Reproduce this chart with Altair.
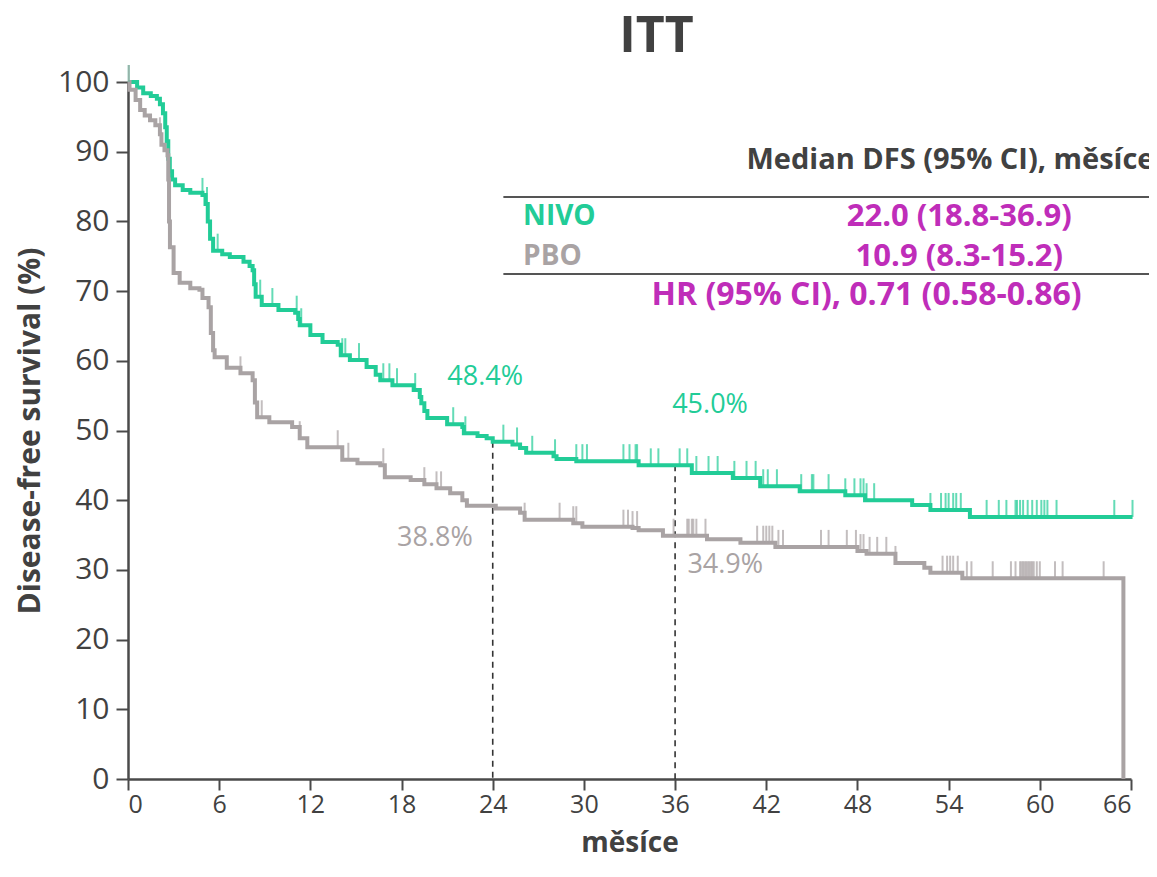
import altair as alt
import numpy as np
import pandas as pd

# ---- data -------------------------------------------------------------
nivo_t = [0, 0.6, 1.0, 1.5, 1.9, 2.1, 2.3, 2.45, 2.55, 2.65, 2.75, 2.9, 3.1, 3.6, 4.1, 4.9,
          5.1, 5.25, 5.4, 5.6, 6.2, 6.7, 7.6, 8.0, 8.2, 8.3, 8.4, 8.8, 9.9, 11.0, 11.2, 11.3,
          12.0, 12.8, 13.8, 14.0, 14.6, 15.7, 16.3, 16.6, 17.4, 18.8, 19.2, 19.3, 19.5, 19.7,
          21.0, 22.0, 22.1, 23.0, 23.6, 24.0, 25.3, 25.8, 26.2, 28.0, 28.2, 29.5, 33.6, 37.1,
          39.8, 41.6, 44.2, 47.2, 48.5, 51.6, 52.8, 55.4, 66.1]
nivo_s = [100, 99.2, 98.4, 98.0, 97.6, 96.8, 95.5, 93.5, 91.5, 89.0, 87.2, 86.0, 85.2, 84.5, 84.1, 83.8,
          82.5, 80.0, 77.5, 75.8, 75.3, 74.9, 74.2, 73.6, 73.0, 71.0, 69.2, 68.0, 67.3, 66.9, 66.0, 65.1,
          63.7, 62.7, 62.3, 60.8, 60.1, 59.1, 58.0, 57.2, 56.5, 55.8, 54.8, 53.9, 52.8, 51.8,
          50.9, 50.5, 49.6, 49.2, 48.9, 48.4, 48.0, 47.5, 46.8, 46.3, 45.9, 45.6, 45.0, 43.9,
          43.2, 42.0, 41.3, 40.7, 40.0, 39.3, 38.6, 37.6, 37.6]

pbo_t = [0, 0.1, 0.5, 0.8, 1.1, 1.45, 1.8, 2.1, 2.2, 2.4, 2.6, 2.65, 2.7, 2.76, 3.0, 3.4, 4.1,
         4.7, 4.9, 5.3, 5.45, 5.6, 5.7, 6.5, 7.4, 8.2, 8.35, 8.5, 9.3, 10.8, 11.3, 11.8, 14.1,
         15.1, 16.6, 16.9, 18.6, 19.5, 20.3, 21.2, 22.0, 22.3, 24.2, 25.8, 26.1, 29.3, 29.9,
         33.2, 33.6, 35.2, 38.1, 40.3, 42.6, 48.0, 48.6, 50.5, 52.4, 52.8, 54.9, 65.5, 65.5]
pbo_s = [100, 98.9, 97.4, 96.0, 95.2, 94.5, 93.8, 92.5, 91.0, 90.2, 89.5, 86.0, 80.0, 76.3, 72.6, 71.2, 70.4,
         70.2, 69.0, 67.7, 64.0, 61.5, 60.5, 59.0, 58.2, 57.2, 54.0, 51.9, 51.2, 50.5, 48.9, 47.6, 45.8,
         45.3, 45.0, 43.3, 42.9, 42.3, 41.7, 41.0, 40.0, 39.2, 38.8, 38.2, 37.2, 36.7, 36.2,
         36.0, 35.7, 34.9, 34.4, 33.9, 33.3, 32.7, 32.3, 31.0, 30.3, 29.6, 28.8, 28.8, 0]

nivo_cens = [0.05, 4.9, 5.2, 5.9, 8.7, 9.5, 11.1, 11.4, 14.1, 14.3, 15.2, 16.8, 17.2, 17.7, 18.9,
             21.4, 22.2, 24.7, 25.6, 26.6, 28.1, 29.5, 29.9, 30.2, 32.6, 33.0, 33.4, 33.5, 34.4,
             34.9, 36.3, 36.8, 37.4, 38.2, 38.8, 39.9, 40.7, 41.3, 41.8, 42.1, 42.7, 44.3, 45.0,
             45.1, 46.1, 47.2, 47.8, 48.2, 48.4, 48.6, 49.1, 52.8, 53.5, 53.8, 54.0, 54.3, 54.5,
             54.8, 56.5, 57.3, 57.8, 58.4, 58.5, 58.7, 58.9, 59.2, 59.5, 59.8, 60.1, 60.3, 60.5,
             61.1, 64.9, 66.1]
pbo_cens = [0.05, 2.1, 7.4, 8.8, 11.3, 13.8, 14.5, 16.8, 19.5, 20.3, 20.6, 26.1, 28.4, 29.3, 29.5,
            32.6, 32.9, 33.2, 33.5, 35.9, 36.8, 36.9, 37.1, 37.2, 37.4, 38.0, 41.4, 41.8, 42.0,
            42.2, 42.4, 42.8, 43.1, 45.6, 46.1, 47.3, 47.9, 48.2, 48.4, 48.8, 49.3, 49.9, 50.5,
            53.6, 53.9, 54.1, 54.3, 54.6, 55.2, 55.5, 56.9, 58.1, 58.4, 58.7, 58.8, 58.9, 59.0,
            59.1, 59.2, 59.3, 59.4, 59.5, 59.6, 59.8, 60.0, 61.0, 61.5, 64.2]

arms = ["NIVO", "PBO"]
arm_colors = ["#22CC97", "#A9A3A4"]

landmark_t = [24, 36]
landmark_nivo = [48.4, 45.0]
landmark_pbo = [38.8, 34.9]

pct_text = ["48.4%", "45.0%", "38.8%", "34.9%"]
pct_arm = ["NIVO", "NIVO", "PBO", "PBO"]
pct_x = [23.5, 38.3, 20.2, 39.3]
pct_y = [57.7, 53.7, 34.6, 30.7]

magenta = "#BF2DB9"
dark = "#414141"
FONT = "Open Sans"

# ---- tables -----------------------------------------------------------
curve = pd.concat([
    pd.DataFrame({"t": nivo_t, "s": nivo_s, "arm": "NIVO", "i": range(len(nivo_t))}),
    pd.DataFrame({"t": pbo_t, "s": pbo_s, "arm": "PBO", "i": range(len(pbo_t))}),
])


def lookup(times, ts, ss):
    idx = np.searchsorted(np.array(ts), np.array(times), side="right") - 1
    return [ss[k] for k in idx]


cens = pd.concat([
    pd.DataFrame({"t": nivo_cens, "s": lookup(nivo_cens, nivo_t, nivo_s), "arm": "NIVO"}),
    pd.DataFrame({"t": pbo_cens, "s": lookup(pbo_cens, pbo_t, pbo_s), "arm": "PBO"}),
])

land = pd.DataFrame({"t": landmark_t, "top": landmark_nivo})
pct = pd.DataFrame({"label": pct_text, "arm": pct_arm, "t": pct_x, "s": pct_y})

color = alt.Color("arm:N", scale=alt.Scale(domain=arms, range=arm_colors), legend=None)

xs = alt.Scale(domain=[0, 66], nice=False)
ys = alt.Scale(domain=[0, 100], nice=False)

x_axis = alt.Axis(values=list(range(0, 67, 6)), title="měsíce", labelFont=FONT, labelFontSize=25,
                  labelColor=dark, titleFont=FONT, titleFontSize=28, titleFontWeight="bold",
                  titleColor=dark, domainColor="#4a4a4a", domainWidth=2.5, tickColor="#4a4a4a",
                  tickWidth=2, tickSize=11, labelPadding=2, titlePadding=12, grid=False)
y_axis = alt.Axis(values=list(range(0, 101, 10)), title="Disease-free survival (%)",
                  labelFont=FONT, labelFontSize=30, labelColor=dark, titleFont=FONT,
                  titleFontSize=30, titleFontWeight="bold", titleColor=dark,
                  domainColor="#4a4a4a", domainWidth=2.5, tickColor="#4a4a4a", tickWidth=2,
                  tickSize=12, labelPadding=7, titlePadding=12, grid=False)

base = alt.Chart(curve)

lines = base.mark_line(interpolate="step-after", strokeWidth=4).encode(
    x=alt.X("t:Q", scale=xs, axis=x_axis),
    y=alt.Y("s:Q", scale=ys, axis=y_axis),
    color=color,
    order="i:Q",
    detail="arm:N",
)

ticks = alt.Chart(cens).mark_tick(orient="vertical", size=17, thickness=2, yOffset=-8.5).encode(
    x=alt.X("t:Q", scale=xs), y=alt.Y("s:Q", scale=ys), color=color)

dash = alt.Chart(land).mark_rule(color="#333333", strokeDash=[6, 5], strokeWidth=1.6).encode(
    x=alt.X("t:Q", scale=xs), y=alt.Y("top:Q", scale=ys), y2=alt.datum(0))

pct_marks = alt.Chart(pct).mark_text(font=FONT, fontSize=27, align="center",
                                     baseline="middle").encode(
    x=alt.X("t:Q", scale=xs), y=alt.Y("s:Q", scale=ys), text="label:N", color=color)

# table annotation
tab_text = ["Median DFS (95% CI), měsíce", "NIVO", "22.0 (18.8-36.9)", "PBO", "10.9 (8.3-15.2)",
            "HR (95% CI), 0.71 (0.58-0.86)"]
tab_x = [40.7, 26.0, 54.7, 26.0, 54.7, 48.6]
tab_y = [88.8, 80.6, 80.6, 74.9, 74.9, 69.4]
tab_align = ["left", "left", "center", "left", "center", "center"]
tab_size = [29, 28, 31, 28, 31, 32]
tab_color = [dark, arm_colors[0], magenta, arm_colors[1], magenta, magenta]
tab = pd.DataFrame({"txt": tab_text, "t": tab_x, "s": tab_y, "al": tab_align,
                    "c": tab_color, "fs": tab_size})

tab_layers = []
for al in ["left", "center"]:
    tab_layers.append(
        alt.Chart(tab[tab["al"] == al]).mark_text(font=FONT, fontWeight="bold",
                                                   align=al, baseline="middle").encode(
            x=alt.X("t:Q", scale=xs), y=alt.Y("s:Q", scale=ys), text="txt:N",
            size=alt.Size("fs:Q", scale=None, legend=None),
            color=alt.Color("c:N", scale=None)))

rule_y = [83.5, 72.45]
rules = alt.Chart(pd.DataFrame({"s": rule_y, "x0": [24.7, 24.7], "x1": [68.5, 68.5]})).mark_rule(
    color="#555555", strokeWidth=2).encode(
    x=alt.X("x0:Q", scale=xs), x2="x1:Q", y=alt.Y("s:Q", scale=ys))

chart = alt.layer(dash, lines, ticks, pct_marks, rules, *tab_layers).properties(
    width=1003, height=697,
    title=alt.TitleParams("ITT", font=FONT, fontSize=50, fontWeight="bold", color=dark,
                          anchor="middle", dx=27, offset=3),
    autosize=alt.AutoSizeParams(type="none"),
    padding={"left": 120, "top": 74, "right": 18, "bottom": 90},
).configure(background="white").configure_view(strokeWidth=0, stroke="transparent")

chart.save("out.html", embed_options={"renderer": "svg", "actions": False})
